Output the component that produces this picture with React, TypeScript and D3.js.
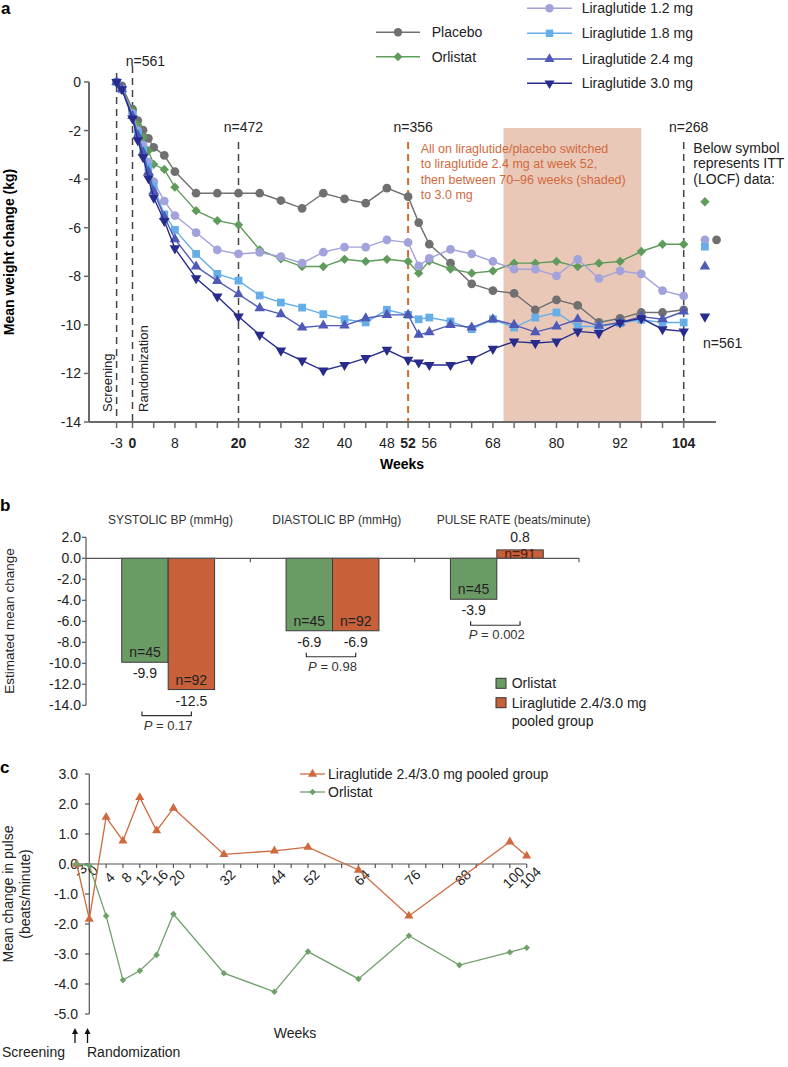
import React from "react";
import * as d3 from "d3";

// ---------- Panel a data ----------
const weeks = [-3, -2, 0, 1, 2, 3, 4, 6, 8, 12, 16, 20, 24, 28, 32, 36, 40, 44, 48, 52, 54, 56, 60, 64, 68, 72, 76, 80, 84, 88, 92, 96, 100, 104];
const placebo = [0, -0.16, -1.12, -1.59, -1.98, -2.32, -2.69, -3.02, -3.69, -4.58, -4.58, -4.58, -4.58, -4.88, -5.2, -4.58, -4.81, -4.99, -4.37, -4.72, -5.79, -6.68, -7.46, -8.31, -8.59, -8.7, -9.38, -8.97, -9.2, -9.9, -9.73, -9.49, -9.49, -9.38];
const orlistat = [0, -0.3, -1.2, -1.77, -2.28, -2.83, -3.39, -3.6, -4.33, -5.3, -5.71, -5.88, -6.91, -7.28, -7.6, -7.6, -7.3, -7.39, -7.3, -7.39, -7.87, -7.37, -7.7, -7.87, -7.78, -7.46, -7.46, -7.39, -7.6, -7.46, -7.39, -6.98, -6.68, -6.68];
const lira12 = [0, -0.3, -1.3, -2.0, -2.6, -3.3, -4.1, -4.9, -5.5, -6.2, -6.91, -7.08, -7.02, -7.19, -7.46, -7.01, -6.8, -6.8, -6.5, -6.61, -7.57, -7.26, -6.89, -7.08, -7.39, -7.71, -7.71, -7.98, -7.3, -8.09, -7.78, -7.9, -8.59, -8.81];
const lira18 = [0, -0.3, -1.35, -2.1, -2.8, -3.5, -4.3, -5.45, -6.09, -7.08, -7.9, -8.18, -8.79, -9.08, -9.29, -9.56, -9.77, -9.9, -9.38, -9.59, -9.77, -9.7, -9.86, -10.18, -9.77, -10.11, -9.7, -9.49, -10.07, -10.07, -9.93, -9.79, -9.9, -9.9];
const lira24 = [0, -0.3, -1.4, -2.2, -2.9, -3.7, -4.5, -5.55, -6.47, -7.6, -8.19, -8.74, -9.31, -9.56, -10.11, -10.03, -10.03, -9.73, -9.59, -9.59, -10.41, -10.3, -10.0, -10.11, -9.77, -10.0, -10.3, -10.07, -9.77, -10.04, -9.9, -9.66, -9.77, -9.45];
const lira30 = [0, -0.3, -1.5, -2.4, -3.1, -3.96, -4.76, -5.72, -6.85, -8.08, -8.83, -9.66, -10.41, -11.06, -11.47, -11.88, -11.65, -11.37, -11.03, -11.44, -11.55, -11.65, -11.65, -11.41, -10.99, -10.69, -10.75, -10.69, -10.27, -10.34, -9.9, -9.73, -10.18, -10.27];
const seriesNames = ["Placebo", "Orlistat", "Liraglutide 1.2 mg", "Liraglutide 1.8 mg", "Liraglutide 2.4 mg", "Liraglutide 3.0 mg"];
const ittWeek = [110.2, 108, 108, 108, 108, 108];
const ittValue = [-6.5, -4.93, -6.5, -6.78, -7.6, -9.66];
const yTicksA = [0, -2, -4, -6, -8, -10, -12, -14];
const xTickMarksA = [-3, 0, 4, 8, 12, 16, 20, 24, 28, 32, 36, 40, 44, 48, 52, 56, 60, 64, 68, 72, 76, 80, 84, 88, 92, 96, 100, 104];
const xTickLabelsA = [-3, 0, 8, 20, 32, 40, 48, 52, 56, 68, 80, 92, 104];
const boldWeeksA = [0, 20, 52, 104];
const nMarkerWeeks = [0, 20, 52, 104];
const nMarkerLabels = ["n=561", "n=472", "n=356", "n=268"];
const shadeStart = 70;
const shadeEnd = 96;
const noteLines = ["All on liraglutide/placebo switched", "to liraglutide 2.4 mg at week 52,", "then between 70–96 weeks (shaded)", "to 3.0 mg"];
const ittLines = ["Below symbol", "represents ITT", "(LOCF) data:"];

// ---------- Panel b data ----------
const bpGroups = ["SYSTOLIC BP (mmHg)", "DIASTOLIC BP (mmHg)", "PULSE RATE (beats/minute)"];
const bpTreatments = ["Orlistat", "Liraglutide 2.4/3.0 mg pooled group"];
const bpOrlistat = [-9.9, -6.9, -3.9];
const bpLira = [-12.5, -6.9, 0.8];
const nOrlistat = [45, 45, 45];
const nLira = [92, 92, 91];
const pValues = ["0.17", "0.98", "0.002"];
const yTicksB = [2, 0, -2, -4, -6, -8, -10, -12, -14];

// ---------- Panel c data ----------
const pulseWeeks = [-3, 0, 4, 8, 12, 16, 20, 32, 44, 52, 64, 76, 88, 100, 104];
const pulseLira = [0, -1.84, 1.56, 0.77, 2.22, 1.11, 1.86, 0.32, 0.44, 0.56, -0.2, -1.73, null, 0.74, 0.27];
const pulseOrlistat = [0, -0.05, -1.73, -3.87, -3.56, -3.03, -1.67, -3.64, -4.26, -2.92, -3.83, -2.39, -3.37, -2.94, -2.79];
const yTicksC = [3, 2, 1, 0, -1, -2, -3, -4, -5];

const FONT = "'Liberation Sans', Arial, Helvetica, sans-serif";
const colorsA = ["#707070", "#5f9b5a", "#a2a2dc", "#66aee8", "#4f5ab6", "#272c8c"];
const markersA = ["circle", "diamond", "circle", "square", "up", "down"];
const GREEN_B = "#6b9b65";
const ORANGE_B = "#c8603a";
const ORANGE_C = "#cf6a3e";
const GREEN_C = "#6fa06a";
const ORANGE_NOTE = "#d2693c";

function Marker({ kind, x, y, color, size }: { kind: string; x: number; y: number; color: string; size: number }) {
  if (kind === "circle") return <circle cx={x} cy={y} r={Math.sqrt(size / Math.PI)} fill={color} />;
  if (kind === "square") return <path d={d3.symbol().type(d3.symbolSquare).size(size)()!} transform={`translate(${x},${y})`} fill={color} />;
  if (kind === "diamond") return <path d={d3.symbol().type(d3.symbolSquare).size(size * 0.72)()!} transform={`translate(${x},${y}) rotate(45)`} fill={color} />;
  if (kind === "up") return <path d={d3.symbol().type(d3.symbolTriangle).size(size * 0.8)()!} transform={`translate(${x},${y})`} fill={color} />;
  return <path d={d3.symbol().type(d3.symbolTriangle).size(size * 0.8)()!} transform={`translate(${x},${y}) rotate(180)`} fill={color} />;
}

export default function App() {
  // Panel a scales
  const xA = d3.scaleLinear().domain([0, 104]).range([132.5, 683.7]);
  const yA = d3.scaleLinear().domain([0, -14]).range([82, 422]);
  const lineA = d3.line<number>().x((_, i) => xA(weeks[i])).y((d) => yA(d));
  const dataA = [placebo, orlistat, lira12, lira18, lira24, lira30];
  const axisLeftA = 89;
  const axisRightA = 716;

  // Panel b scales
  const yB = d3.scaleLinear().domain([2, -14]).range([537.3, 705.3]);
  const x0 = d3.scaleBand().domain(bpGroups).range([86, 579]).paddingInner(0).paddingOuter(0);
  const x1 = d3.scaleBand().domain(bpTreatments).range([0, x0.bandwidth()]).paddingInner(0).paddingOuter(0.77);

  // Panel c scales
  const xC = d3.scaleLinear().domain([0, 104]).range([89.3, 526.7]);
  const yC = d3.scaleLinear().domain([3, -5]).range([774, 1014]);
  const lineC = d3
    .line<[number, number | null]>()
    .defined((d) => d[1] !== null)
    .x((d) => xC(d[0]))
    .y((d) => yC(d[1] as number));
  const liraPts = pulseWeeks.map((w, i) => [w, pulseLira[i]] as [number, number | null]).filter((d) => d[1] !== null);
  const orlPts = pulseWeeks.map((w, i) => [w, pulseOrlistat[i]] as [number, number | null]);
  const xTickMarksC = d3.range(0, 105, 4);

  const axisColor = "#6a6a6a";

  return (
    <svg width={788} height={1067} style={{ display: "block", position: "absolute", left: 0, top: 0, background: "#fff" }} fontFamily={FONT}>
      {/* ================= Panel a ================= */}
      <text x={1} y={14} fontSize={17} fontWeight="bold">a</text>
      {/* shaded area */}
      <rect x={xA(shadeStart)} y={128} width={xA(shadeEnd) - xA(shadeStart)} height={yA(-14) - 128} fill="#e9c8b8" />
      {/* dashed markers */}
      <line x1={xA(-3)} x2={xA(-3)} y1={73} y2={yA(-14)} stroke="#444" strokeWidth={1.5} strokeDasharray="7,5" />
      {nMarkerWeeks.map((w, i) => (
        <g key={"nm" + i}>
          <line x1={xA(w)} x2={xA(w)} y1={i === 0 ? 66 : 142} y2={yA(-14)} stroke={w === 52 ? "#d8692f" : "#444"} strokeWidth={w === 52 ? 2 : 1.5} strokeDasharray="7,5" />
          <text x={xA(w) + (i === 0 ? 13 : 5)} y={i === 0 ? 66 : 132} fontSize={14} textAnchor="middle" fill="#222">{nMarkerLabels[i]}</text>
        </g>
      ))}
      {/* axes */}
      <line x1={axisLeftA} x2={axisLeftA} y1={yA(0)} y2={yA(-14)} stroke={axisColor} strokeWidth={2} />
      <line x1={axisLeftA} x2={axisRightA} y1={yA(-14)} y2={yA(-14)} stroke={axisColor} strokeWidth={2} />
      {yTicksA.map((t) => (
        <g key={"ya" + t}>
          <line x1={axisLeftA - 5} x2={axisLeftA} y1={yA(t)} y2={yA(t)} stroke={axisColor} strokeWidth={1.5} />
          <text x={81} y={yA(t) + 5} fontSize={14} textAnchor="end" fill="#222">{t}</text>
        </g>
      ))}
      {xTickMarksA.map((t) => (
        <line key={"xa" + t} x1={xA(t)} x2={xA(t)} y1={yA(-14)} y2={yA(-14) + 6} stroke={axisColor} strokeWidth={1.5} />
      ))}
      {xTickLabelsA.map((t) => (
        <text key={"xl" + t} x={xA(t)} y={448} fontSize={14} textAnchor="middle" fontWeight={boldWeeksA.includes(t) ? "bold" : "normal"} fill="#222">{t}</text>
      ))}
      <text x={402} y={469} fontSize={14} fontWeight="bold" textAnchor="middle">Weeks</text>
      <text transform="translate(14,252) rotate(-90)" fontSize={14} fontWeight="bold" textAnchor="middle">Mean weight change (kg)</text>
      <text transform="translate(112,412) rotate(-90)" fontSize={13} fill="#222">Screening</text>
      <text transform="translate(147.5,412) rotate(-90)" fontSize={13} fill="#222">Randomization</text>
      {/* series */}
      {dataA.map((vals, si) => (
        <g key={"s" + si}>
          <path d={lineA(vals)!} fill="none" stroke={colorsA[si]} strokeWidth={1.4} />
          {vals.map((v, i) => (
            <Marker key={i} kind={markersA[si]} x={xA(weeks[i])} y={yA(v)} color={colorsA[si]} size={60} />
          ))}
        </g>
      ))}
      {/* ITT symbols */}
      {ittValue.map((v, si) => (
        <Marker key={"itt" + si} kind={markersA[si]} x={xA(ittWeek[si])} y={yA(v)} color={colorsA[si]} size={60} />
      ))}
      {/* notes */}
      {noteLines.map((l, i) => (
        <text key={"note" + i} x={420.7} y={153 + i * 15.3} fontSize={12.5} fill={ORANGE_NOTE}>{l}</text>
      ))}
      {ittLines.map((l, i) => (
        <text key={"itl" + i} x={693.3} y={153 + i * 15.3} fontSize={14} fill="#222">{l}</text>
      ))}
      <text x={703} y={348} fontSize={14} fill="#222">n=561</text>
      {/* legend a */}
      {seriesNames.map((name, si) => {
        const left = si < 2;
        const lx1 = left ? 376 : 527;
        const lx2 = left ? 420 : 572;
        const ly = left ? [32.3, 56.7][si] : [8.3, 33.3, 59, 83.3][si - 2];
        return (
          <g key={"lg" + si}>
            <line x1={lx1} x2={lx2} y1={ly} y2={ly} stroke={colorsA[si]} strokeWidth={1.4} />
            <Marker kind={markersA[si]} x={(lx1 + lx2) / 2} y={ly} color={colorsA[si]} size={55} />
            <text x={left ? 431.7 : 581.7} y={ly + 5} fontSize={14} fill="#222">{name}</text>
          </g>
        );
      })}

      {/* ================= Panel b ================= */}
      <text x={0} y={511} fontSize={17} fontWeight="bold">b</text>
      {bpGroups.map((g) => (
        <text key={"t" + g} x={(x0(g) as number) + 22} y={524} fontSize={12} fill="#333">{g}</text>
      ))}
      <line x1={86} x2={86} y1={yB(2)} y2={yB(-14)} stroke="#555" strokeWidth={1.2} />
      {yTicksB.map((t) => (
        <g key={"yb" + t}>
          <line x1={82} x2={86} y1={yB(t)} y2={yB(t)} stroke="#555" strokeWidth={1.2} />
          <text x={81} y={yB(t) + 5} fontSize={14} textAnchor="end" fill="#222">{t.toFixed(1)}</text>
        </g>
      ))}
      <text transform="translate(14,621) rotate(-90)" fontSize={13.5} textAnchor="middle" fill="#222">Estimated mean change</text>
      {bpGroups.map((g, gi) => {
        const gx = x0(g) as number;
        const vals = [bpOrlistat[gi], bpLira[gi]];
        const ns = [nOrlistat[gi], nLira[gi]];
        const centers = bpTreatments.map((t) => gx + (x1(t) as number) + x1.bandwidth() / 2);
        const labelBaselines = vals.map((v) => (v < 0 ? yB(v) + 16 : yB(v) - 8));
        const bracketY = Math.max(...labelBaselines) + 10;
        return (
          <g key={"grp" + gi}>
            {vals.map((v, ti) => {
              const bx = gx + (x1(bpTreatments[ti]) as number);
              const top = Math.min(yB(0), yB(v));
              const h = Math.abs(yB(v) - yB(0));
              return (
                <g key={ti}>
                  <rect x={bx} y={top} width={x1.bandwidth()} height={h} fill={ti === 0 ? GREEN_B : ORANGE_B} stroke="#3a3a3a" strokeWidth={1} />
                  <text x={centers[ti]} y={v < 0 ? yB(v) - 5 : yB(v) + 9} fontSize={14} textAnchor="middle" fill={v < 0 ? "#222" : "#4a2010"}>{"n=" + ns[ti]}</text>
                  <text x={centers[ti]} y={labelBaselines[ti]} fontSize={14} textAnchor="middle" fill="#222">{v.toFixed(1)}</text>
                </g>
              );
            })}
            <path d={`M${centers[0] - 3},${bracketY - 4}V${bracketY}H${centers[1]}V${bracketY - 4}`} fill="none" stroke="#333" strokeWidth={1.2} />
            <text x={(centers[0] + centers[1]) / 2} y={bracketY + 14} fontSize={13} textAnchor="middle" fill="#333">
              <tspan fontStyle="italic">P</tspan>
              {" = " + pValues[gi]}
            </text>
          </g>
        );
      })}
      <line x1={86} x2={579} y1={yB(0)} y2={yB(0)} stroke="#555" strokeWidth={1.2} />
      {bpGroups.map((g) => (
        <line key={"tb" + g} x1={(x0(g) as number) + x0.bandwidth()} x2={(x0(g) as number) + x0.bandwidth()} y1={yB(0)} y2={yB(0) + 4} stroke="#555" strokeWidth={1.2} />
      ))}
      {/* legend b */}
      <rect x={496} y={678.3} width={10} height={10} fill={GREEN_B} stroke="#333" strokeWidth={1} />
      <text x={511.7} y={688} fontSize={14} fill="#222">{bpTreatments[0]}</text>
      <rect x={496} y={697.7} width={10} height={10} fill={ORANGE_B} stroke="#333" strokeWidth={1} />
      <text x={511.7} y={707.5} fontSize={14} fill="#222">Liraglutide 2.4/3.0 mg</text>
      <text x={511.7} y={726} fontSize={14} fill="#222">pooled group</text>

      {/* ================= Panel c ================= */}
      <text x={0} y={773} fontSize={17} fontWeight="bold">c</text>
      <line x1={89.3} x2={89.3} y1={yC(3)} y2={yC(-5)} stroke="#555" strokeWidth={1.2} />
      {yTicksC.map((t) => (
        <g key={"yc" + t}>
          <line x1={85} x2={89.3} y1={yC(t)} y2={yC(t)} stroke="#555" strokeWidth={1.2} />
          <text x={78} y={yC(t) + 5} fontSize={14} textAnchor="end" fill="#222">{t.toFixed(1)}</text>
        </g>
      ))}
      <line x1={72} x2={xC(104)} y1={yC(0)} y2={yC(0)} stroke="#555" strokeWidth={1.2} />
      {[-3, ...xTickMarksC].map((t) => (
        <line key={"xc" + t} x1={xC(t)} x2={xC(t)} y1={yC(0)} y2={yC(0) + 4} stroke="#555" strokeWidth={1.2} />
      ))}
      {pulseWeeks.map((t) => (
        <text key={"xcl" + t} transform={`translate(${xC(t) + 7},${t <= 0 ? 874 : 881}) rotate(-45)`} fontSize={14} textAnchor="middle" fill="#222">{t}</text>
      ))}
      <text transform="translate(13,894) rotate(-90)" fontSize={14} textAnchor="middle" fill="#222">Mean change in pulse</text>
      <text transform="translate(30,894) rotate(-90)" fontSize={14} textAnchor="middle" fill="#222">(beats/minute)</text>
      <path d={lineC(liraPts)!} fill="none" stroke={ORANGE_C} strokeWidth={1.3} />
      {liraPts.map((d, i) => (
        <Marker key={"lc" + i} kind="up" x={xC(d[0])} y={yC(d[1] as number)} color={ORANGE_C} size={45} />
      ))}
      <path d={lineC(orlPts)!} fill="none" stroke={GREEN_C} strokeWidth={1.3} />
      {orlPts.map((d, i) => (
        <Marker key={"oc" + i} kind="diamond" x={xC(d[0])} y={yC(d[1] as number)} color={GREEN_C} size={30} />
      ))}
      {/* legend c */}
      <line x1={300} x2={325} y1={774} y2={774} stroke={ORANGE_C} strokeWidth={1.3} />
      <Marker kind="up" x={312.5} y={774} color={ORANGE_C} size={45} />
      <text x={328} y={779} fontSize={14} fill="#222">Liraglutide 2.4/3.0 mg pooled group</text>
      <line x1={300} x2={325} y1={792} y2={792} stroke={GREEN_C} strokeWidth={1.3} />
      <Marker kind="diamond" x={312.5} y={792} color={GREEN_C} size={30} />
      <text x={328} y={797} fontSize={14} fill="#222">Orlistat</text>
      <text x={295} y={1038} fontSize={14} textAnchor="middle" fill="#222">Weeks</text>
      {[75, 87.5].map((ax, i) => (
        <g key={"arr" + i}>
          <line x1={ax} x2={ax} y1={1043} y2={1031} stroke="#111" strokeWidth={1.3} />
          <path d={`M${ax - 3},${1034}L${ax},${1028}L${ax + 3},${1034}Z`} fill="#111" />
        </g>
      ))}
      <text x={2} y={1057} fontSize={14} fill="#222">Screening</text>
      <text x={87} y={1057} fontSize={14} fill="#222">Randomization</text>
    </svg>
  );
}
